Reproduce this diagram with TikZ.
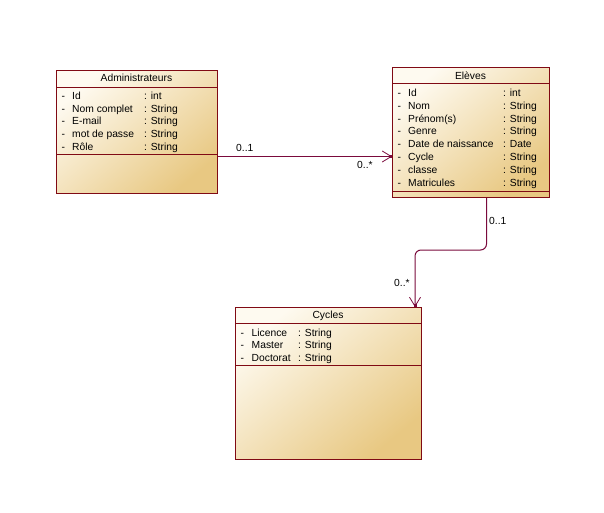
\documentclass[tikz,border=0pt]{standalone}
\usepackage{fontspec}
\setmainfont{Liberation Sans}
\usetikzlibrary{arrows.meta,calc}

\definecolor{clsborder}{RGB}{128,10,20}
\definecolor{assocline}{RGB}{122,10,60}
\definecolor{fillhi}{RGB}{254,250,240}
\definecolor{filllo}{RGB}{232,200,130}

\tikzset{
  classbox/.style={draw=clsborder, line width=1pt, inner sep=0pt,
    top color=fillhi, bottom color=filllo, shading angle=40},
  divider/.style={draw=clsborder, line width=1pt},
  ctitle/.style={anchor=base, font=\fontsize{10.3}{12}\selectfont, inner sep=0pt},
  attr/.style={anchor=base west, font=\fontsize{10.3}{12}\selectfont, inner sep=0pt},
  mult/.style={anchor=base west, font=\fontsize{10.3}{12}\selectfont, inner sep=0pt},
  assoc/.style={draw=assocline, line width=1pt,
    -{Straight Barb[length=9pt,width=11pt,line width=0.8pt,sep=-3pt] Square[length=3pt,width=3pt]}},
}

\begin{document}
\begin{tikzpicture}[x=1pt,y=-1pt]
  \useasboundingbox (0,0) rectangle (604,513);

  % ---- class Administrateurs ----
  \node[classbox, minimum width=161pt, minimum height=123pt, anchor=north west] (adm) at (56,70) {};
  \draw[divider] (56,88) -- (217,88);
  \draw[divider] (56,155) -- (217,155);
  \node[ctitle] (admT) at (136.5,82) {Administrateurs};
  \foreach \n/\t [count=\i from 0] in {Id/int, Nom complet/String, E-mail/String, mot de passe/String, Rôle/String} {
    \node[attr] (admD\i) at (61.5,99.7+12.6*\i) {-};
    \node[attr] (admN\i) at (72,99.7+12.6*\i) {\n};
    \node[attr] (admY\i) at (144,99.7+12.6*\i) {: \t};
  }

  % ---- class Elèves ----
  \node[classbox, minimum width=157pt, minimum height=130pt, anchor=north west] (el) at (392,67) {};
  \draw[divider] (392,84) -- (549,84);
  \draw[divider] (392,191.5) -- (549,191.5);
  \node[ctitle] (elT) at (470.5,79.3) {Elèves};
  \foreach \n/\t [count=\i from 0] in {Id/int, Nom/String, Prénom(s)/String, Genre/String, Date de naissance/Date, Cycle/String, classe/String, Matricules/String} {
    \node[attr] (elD\i) at (397.5,96.4+12.85*\i) {-};
    \node[attr] (elN\i) at (408,96.4+12.85*\i) {\n};
    \node[attr] (elY\i) at (503,96.4+12.85*\i) {: \t};
  }

  % ---- class Cycles ----
  \node[classbox, minimum width=186pt, minimum height=152pt, anchor=north west] (cy) at (235,307) {};
  \draw[divider] (235,323.5) -- (421,323.5);
  \draw[divider] (235,365.5) -- (421,365.5);
  \node[ctitle] (cyT) at (328,318.7) {Cycles};
  \foreach \n/\t [count=\i from 0] in {Licence/String, Master/String, Doctorat/String} {
    \node[attr] (cyD\i) at (240.5,336+12.7*\i) {-};
    \node[attr] (cyN\i) at (251.5,336+12.7*\i) {\n};
    \node[attr] (cyY\i) at (298,336+12.7*\i) {: \t};
  }

  % ---- associations ----
  \coordinate (a1) at ([yshift=37.5pt]adm.south east);
  \draw[assoc] (a1) -- (a1 -| el.west);
  \node[mult] (m1) at (236,152) {0..1};
  \node[mult] (m2) at (357,168) {0..*};

  \coordinate (b1) at ([xshift=15.5pt]el.south);
  \coordinate (b2) at ([xshift=86.5pt]cy.north);
  \draw[assoc, rounded corners=6pt] (b1) |- ([yshift=57pt]b2) -- (b2);
  \node[mult] (m3) at (489,224) {0..1};
  \node[mult] (m4) at (394,286) {0..*};
\end{tikzpicture}
\end{document}
